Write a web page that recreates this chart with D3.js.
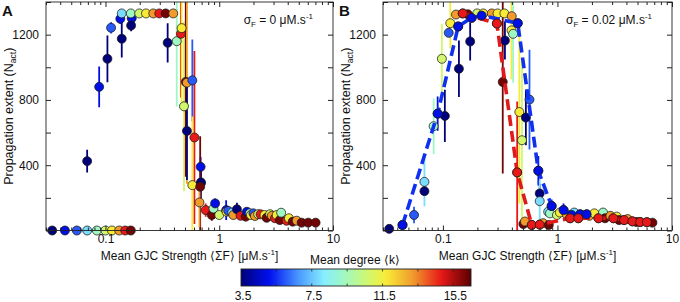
<!DOCTYPE html>
<html><head><meta charset="utf-8">
<script src="https://cdn.jsdelivr.net/npm/d3@7"></script>
<style>body{margin:0;background:#fff}svg{display:block;font-family:"Liberation Sans",Arial,sans-serif}</style>
</head><body><svg id="c" width="680" height="302"></svg>
<script>
// ---------- Panel A (sigma_F = 0) ----------
const aF = [0.034,0.044,0.056,0.069,0.084,0.100,0.114,0.132,0.149,0.167,
  0.069,0.088,0.104,0.112,0.135,0.139,0.139,0.170,0.167,0.168,
  0.198,0.227,0.263,0.297,0.338,0.394,0.352,0.423,0.46,0.467,
  0.49,0.508,0.52,0.58,0.52,0.605,0.58,0.69,0.686,0.69,
  0.68,0.67,0.76,0.86,0.89,0.92,1.0,1.15,1.16,1.2,
  1.3,1.33,1.43,1.54,1.71,1.75,1.86,1.9,2.0,2.06,
  2.2,2.31,2.5,2.61,2.8,2.9,3.09,3.2,3.41,3.5,
  3.91,4.1,4.42,4.8,5.3,6.05,7.03];
const aN = [0,0,0,0,0,0,0,0,0,0,
  425,880,1052,1242,1297,1175,1330,1300,1330,1256,
  1330,1330,1330,1330,1330,1330,1150,1160,1205,1240,
  761,910,906,920,610,570,278,290,390,295,
  268,172,125,95,135,166,95,125,115,120,
  110,95,130,90,85,115,105,95,105,89,
  100,99,95,78,100,90,75,95,64,109,
  60,75,54,60,48,48,48];
const aErr = [0,0,0,0,0,0,0,0,0,0,
  70,125,143,35,30,115,0,20,0,35,
  0,0,0,0,0,0,120,400,390,500,
  520,580,620,250,300,530,420,60,60,100,
  310,150,40,35,20,30,20,60,25,25,
  20,25,40,20,20,20,20,20,15,20,
  20,20,20,20,20,15,15,15,15,15,
  15,15,15,15,10,10,10];
const aK = [3.5,5.0,6.0,7.9,9.3,10.7,11.7,13.2,14.8,16.2,
  3.5,5.0,3.5,6.0,5.0,3.5,7.9,5.0,9.3,3.5,
  10.7,11.7,13.2,14.8,16.2,13.2,3.5,9.3,14.8,11.7,
  10.7,16.2,13.2,6.0,3.5,14.8,11.7,7.9,5.0,3.5,
  16.2,13.2,14.8,16.2,9.3,5.0,10.7,5.0,11.7,6.0,
  7.9,13.2,3.5,14.8,16.2,5.0,9.3,11.7,6.0,13.2,
  10.7,14.8,11.7,16.2,10.7,13.2,14.8,11.7,16.2,9.3,
  14.8,11.7,16.2,13.2,16.2,16.2,16.2];

// ---------- Panel B (sigma_F = 0.02) ----------
const bF = [0.034,0.0444,0.056,0.069,0.069,0.083,0.090,0.104,0.098,0.1125,
  0.116,0.138,0.136,0.130,0.149,0.173,0.178,0.218,0.165,0.199,
  0.225,0.267,0.296,0.30,0.344,0.399,0.333,0.348,0.397,0.41,
  0.45,0.445,0.465,0.49,0.53,0.57,0.681,0.70,0.70,0.504,
  0.52,0.597,0.70,0.75,0.84,0.83,0.86,0.89,0.99,1.13,
  1.05,1.2,1.29,1.33,1.4,1.52,1.58,1.65,1.80,1.9,
  2.1,2.28,2.5,2.6,2.9,3.08,3.3,3.45,3.82,4.1,
  4.51,4.9,5.27,6.03,6.75];
const bN = [10,34,95,298,241,639,716,702,1052,1211,
  1270,991,1250,1323,1330,1158,1303,1317,1325,1330,
  1330,1330,1268,1330,1330,1313,910,1164,1226,1205,
  1270,356,726,553,692,802,366,227,180,40,
  55,34,36,45,34,115,105,150,95,125,
  110,100,75,95,110,75,99,95,99,90,
  105,75,110,75,90,75,85,64,64,70,
  56,52,52,51,48];
const bErr = [0,0,50,150,0,170,105,160,214,0,
  155,173,0,0,0,117,0,0,0,0,
  0,0,0,0,0,0,560,117,300,300,
  0,435,560,500,170,305,90,60,130,0,
  0,0,0,0,0,20,20,40,20,40,
  30,30,15,30,25,15,25,20,25,20,
  20,15,20,15,15,15,15,15,15,15,
  15,10,10,10,10];
const bK = [3.5,5.0,6.0,7.9,3.5,9.3,5.0,3.5,10.7,6.0,
  11.7,3.5,5.0,13.2,14.8,3.5,5.0,5.0,16.2,10.7,
  11.7,13.2,14.8,11.7,11.7,13.2,16.2,3.5,11.7,9.3,
  5.0,14.8,11.7,10.7,3.5,6.0,5.0,3.5,7.9,16.2,
  13.2,14.8,14.8,13.2,16.2,7.9,9.3,5.0,10.7,5.0,
  11.7,13.2,14.8,5.0,7.9,14.8,5.0,11.7,5.0,13.2,
  11.7,14.8,9.3,16.2,13.2,14.8,11.7,16.2,14.8,13.2,
  14.8,16.2,14.8,14.8,16.2];
// series in panel B traced by dashed fit lines (by degree)
const bFitK = [5.0, 14.8];
const bFitColor = ["#1030f0", "#e01a1a"];

// ---------- ticks / axes ----------
const xDomain = [0.03, 10];
const yDomain = [0, 1400];
const xMajor = [0.1, 1, 10];
const xMinor = [0.03,0.04,0.05,0.06,0.07,0.08,0.09,0.2,0.3,0.4,0.5,0.6,0.7,0.8,0.9,2,3,4,5,6,7,8,9];
const yTickVals = [0,200,400,600,800,1000,1200,1400];
const yLabelVals = [400, 800, 1200];
const kDomain = [3.5, 16.5];
const cbLabels = [3.5, 7.5, 11.5, 15.5];
const cbTicks = [5.5, 7.5, 9.5, 11.5, 13.5, 15.5];

// jet-like colormap
const cmapPos = [0,0.125,0.25,0.36,0.45,0.55,0.63,0.75,0.87,1];
const cmapCol = ["#00007a","#0010f0","#4a98ff","#86eeff","#a0f8c0","#d0f870","#f8ec38","#f0982c","#e81818","#5a0000"];
const kScale = d3.scaleLinear()
  .domain(cmapPos.map(p => kDomain[0] + p*(kDomain[1]-kDomain[0])))
  .range(cmapCol).interpolate(d3.interpolateRgb).clamp(true);

const svg = d3.select("#c");
const Y0 = 230.5, Y1 = 2;

function panel(id, x0, x1, F, N, E, K, letter, sigmaVal, fitK, fitCol) {
  const x = d3.scaleLog().domain(xDomain).range([x0, x1]);
  const y = d3.scaleLinear().domain(yDomain).range([Y0, Y1]);
  const g = svg.append("g");
  const clipId = "clip" + id;
  svg.append("clipPath").attr("id", clipId).append("rect")
    .attr("x", x0).attr("y", Y1).attr("width", x1-x0).attr("height", Y0-Y1);

  const idx = d3.range(F.length);
  // error bars
  g.append("g").attr("clip-path", `url(#${clipId})`).selectAll("line")
    .data(idx.filter(i => E[i] > 0)).join("line")
    .attr("x1", i => x(F[i])).attr("x2", i => x(F[i]))
    .attr("y1", i => y(N[i]-E[i])).attr("y2", i => y(N[i]+E[i]))
    .attr("stroke", i => kScale(K[i])).attr("stroke-width", 1.8);
  // markers
  const drawMarkers = (sel) => sel.selectAll("circle").data(sel.datum()).join("circle")
    .attr("cx", i => x(F[i])).attr("cy", i => y(N[i])).attr("r", 4.5)
    .attr("fill", i => kScale(K[i])).attr("stroke", "#1a1a1a").attr("stroke-width", 0.75);
  drawMarkers(g.append("g").datum(idx));
  // dashed fit lines through selected series
  if (fitK) {
    const line = d3.line().x(i => x(F[i])).y(i => y(N[i]));
    fitK.forEach((kv, j) => {
      const s = idx.filter(i => K[i] === kv).sort((a, b) => F[a] - F[b]);
      g.append("path").attr("d", line(s)).attr("fill", "none")
        .attr("stroke", fitCol[j]).attr("stroke-width", 3.6).attr("stroke-dasharray", "11,5");
    });
    fitK.forEach(kv => {
      drawMarkers(g.append("g").datum(idx.filter(i => K[i] === kv)));
    });
  }

  // axes
  const ax = svg.append("g");
  const fmtX = d => d === 0.1 ? "0.1" : String(d);
  const mk = (gen, tr) => { const a = ax.append("g").attr("transform", tr).call(gen); a.select(".domain").remove(); a.selectAll("line").attr("stroke", "#222"); a.selectAll("text").attr("font-family", "Liberation Sans, Arial, sans-serif").attr("font-size", 12).attr("fill", "#111"); return a; };
  mk(d3.axisBottom(x).tickValues(xMajor).tickFormat(fmtX).tickSizeInner(-5).tickSizeOuter(0).tickPadding(4), `translate(0,${Y0})`);
  mk(d3.axisBottom(x).tickValues(xMinor).tickFormat("").tickSizeInner(-3).tickSizeOuter(0), `translate(0,${Y0})`);
  mk(d3.axisTop(x).tickValues(xMajor).tickFormat("").tickSizeInner(-5).tickSizeOuter(0), `translate(0,${Y1})`);
  mk(d3.axisTop(x).tickValues(xMinor).tickFormat("").tickSizeInner(-3).tickSizeOuter(0), `translate(0,${Y1})`);
  mk(d3.axisLeft(y).tickValues(yTickVals).tickFormat(d => yLabelVals.includes(d) ? d : "").tickSizeInner(-5).tickSizeOuter(0).tickPadding(7), `translate(${x0},0)`);
  mk(d3.axisRight(y).tickValues(yTickVals).tickFormat("").tickSizeInner(-5).tickSizeOuter(0), `translate(${x1},0)`);
  svg.append("rect").attr("x", x0).attr("y", Y1).attr("width", x1-x0).attr("height", Y0-Y1)
    .attr("fill", "none").attr("stroke", "#222").attr("stroke-width", 0.9);

  // labels
  const yl = svg.append("text").attr("transform", `translate(${x0-33},${(Y0+Y1)/2}) rotate(-90)`)
    .attr("text-anchor", "middle").attr("font-size", 12.5).attr("fill", "#111");
  yl.append("tspan").text("Propagation extent (N");
  yl.append("tspan").text("act").attr("font-size", 8.5).attr("dy", 3);
  yl.append("tspan").text(")").attr("dy", -3);

  const xl = svg.append("text").attr("x", (x0+x1)/2).attr("y", 259.5)
    .attr("text-anchor", "middle").attr("font-size", 12).attr("fill", "#111");
  xl.append("tspan").text("Mean GJC Strength \u27E8\u03A3F\u27E9 [\u03BCM.s");
  xl.append("tspan").text("-1").attr("font-size", 8).attr("dy", -5);
  xl.append("tspan").text("]").attr("dy", 5);

  svg.append("text").attr("x", x0-44).attr("y", 16).attr("font-size", 15)
    .attr("font-weight", "bold").attr("fill", "#111").text(letter);

  const sg = svg.append("text").attr("x", x1-20).attr("y", 24).attr("text-anchor", "end")
    .attr("font-size", 12).attr("fill", "#111");
  sg.append("tspan").text("\u03C3");
  sg.append("tspan").text("F").attr("font-size", 8).attr("dy", 3);
  sg.append("tspan").text(" = " + sigmaVal + " \u03BCM.s").attr("dy", -3);
  sg.append("tspan").text("-1").attr("font-size", 8).attr("dy", -5);
}

panel("A", 46, 333, aF, aN, aErr, aK, "A", "0", null, null);
panel("B", 383, 672, bF, bN, bErr, bK, "B", "0.02", bFitK, bFitColor);

// ---------- colorbar ----------
const cbx = d3.scaleLinear().domain(kDomain).range([241, 471]);
const grad = svg.append("defs").append("linearGradient").attr("id", "cbg")
  .attr("x1", "0%").attr("x2", "100%").attr("y1", "0%").attr("y2", "0%");
d3.range(0, 1.0001, 0.02).forEach(p => {
  grad.append("stop").attr("offset", (p*100) + "%")
    .attr("stop-color", kScale(kDomain[0] + p*(kDomain[1]-kDomain[0])));
});
const CB0 = 269, CB1 = 286;
svg.append("rect").attr("x", cbx(kDomain[0])).attr("y", CB0)
  .attr("width", cbx(kDomain[1]) - cbx(kDomain[0])).attr("height", CB1-CB0)
  .attr("fill", "url(#cbg)").attr("stroke", "#222").attr("stroke-width", 0.9);
svg.append("g").selectAll("line").data(cbTicks).join("line")
  .attr("x1", d => cbx(d)).attr("x2", d => cbx(d)).attr("y1", CB0).attr("y2", CB0+2.5)
  .attr("stroke", "#222").attr("stroke-width", 0.8);
svg.append("g").selectAll("line").data(cbTicks).join("line")
  .attr("x1", d => cbx(d)).attr("x2", d => cbx(d)).attr("y1", CB1).attr("y2", CB1-2.5)
  .attr("stroke", "#222").attr("stroke-width", 0.8);
svg.append("g").selectAll("text").data(cbLabels).join("text")
  .attr("x", d => cbx(d) + 2).attr("y", 299.5).attr("text-anchor", "middle")
  .attr("font-size", 12).attr("fill", "#111").text(d => d.toFixed(1));
svg.append("text").attr("x", 355).attr("y", 263.5).attr("text-anchor", "middle")
  .attr("font-size", 12).attr("fill", "#111").text("Mean degree \u27E8k\u27E9");
</script></body></html>
